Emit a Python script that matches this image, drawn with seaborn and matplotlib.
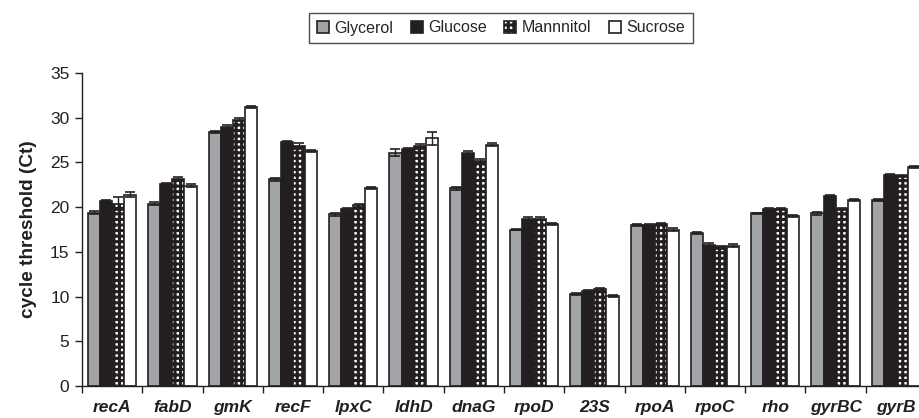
import matplotlib
matplotlib.use("Agg")
import matplotlib.pyplot as plt
import seaborn as sns
import pandas as pd

genes = ["recA", "fabD", "gmK", "recF", "lpxC", "ldhD", "dnaG",
         "rpoD", "23S", "rpoA", "rpoC", "rho", "gyrBC", "gyrB"]
carbon_sources = ["Glycerol", "Glucose", "Mannnitol", "Sucrose"]

glycerol = [19.4, 20.4, 28.4, 23.1, 19.2, 26.1, 22.1, 17.5, 10.3, 18.0, 17.1, 19.3, 19.3, 20.8]
glucose = [20.7, 22.6, 29.0, 27.3, 19.8, 26.5, 26.0, 18.7, 10.6, 18.0, 15.8, 19.8, 21.2, 23.6]
mannnitol = [20.4, 23.2, 29.8, 26.8, 20.2, 26.8, 25.2, 18.7, 10.8, 18.1, 15.5, 19.8, 19.8, 23.5]
sucrose = [21.4, 22.4, 31.2, 26.3, 22.1, 27.7, 27.0, 18.1, 10.1, 17.5, 15.7, 19.0, 20.8, 24.5]

glycerol_err = [0.15, 0.15, 0.15, 0.15, 0.15, 0.4, 0.15, 0.1, 0.15, 0.1, 0.1, 0.1, 0.15, 0.15]
glucose_err = [0.15, 0.1, 0.15, 0.15, 0.1, 0.15, 0.3, 0.15, 0.15, 0.1, 0.15, 0.15, 0.15, 0.15]
mannnitol_err = [0.7, 0.2, 0.2, 0.35, 0.15, 0.3, 0.15, 0.15, 0.15, 0.15, 0.15, 0.15, 0.15, 0.15]
sucrose_err = [0.3, 0.15, 0.1, 0.1, 0.1, 0.7, 0.15, 0.1, 0.1, 0.15, 0.15, 0.1, 0.15, 0.15]

colors = ["#a3a4a8", "#231f20", "#ffffff", "#ffffff"]

values = [glycerol, glucose, mannnitol, sucrose]
errors = [glycerol_err, glucose_err, mannnitol_err, sucrose_err]

df = pd.DataFrame({
    "gene": [g for _ in carbon_sources for g in genes],
    "source": [s for s in carbon_sources for _ in genes],
    "ct": [v for series in values for v in series],
})

sns.set_style("ticks")
plt.rcParams["font.family"] = ["Liberation Sans", "DejaVu Sans"]
plt.rcParams["hatch.linewidth"] = 2.2
plt.rcParams["hatch.color"] = "#231f20"

fig = plt.figure(figsize=(9.19, 4.18), dpi=100)
ax = fig.add_axes([82 / 919, 32 / 418, 844 / 919, 313 / 418])

sns.barplot(data=df, x="gene", y="ct", hue="source", order=genes,
            hue_order=carbon_sources, palette=colors, width=0.8,
            edgecolor="#231f20", linewidth=1.2, errorbar=None,
            legend=False, saturation=1, ax=ax)

# checkered fill for the mannitol series
for patch in ax.containers[2]:
    patch.set_hatch("+++")

# error bars placed on the drawn bars
for container, err in zip(ax.containers, errors):
    xs = [p.get_x() + p.get_width() / 2 for p in container]
    ys = [p.get_height() for p in container]
    ax.errorbar(xs, ys, yerr=err, fmt="none", ecolor="#231f20",
                elinewidth=1.0, capsize=3.5, capthick=1.2, zorder=5)

ax.set_xlim(-0.5, len(genes) - 0.5)
ax.set_ylim(0, 35)
ax.set_yticks(range(0, 36, 5))
ax.tick_params(axis="y", labelsize=12.5, length=5, width=1, color="#231f20",
               labelcolor="#231f20", pad=4)
ax.set_xticks(range(len(genes)))
ax.set_xticklabels(genes, fontsize=12.5, fontweight="bold", fontstyle="italic",
                   color="#231f20")
ax.tick_params(axis="x", length=0, pad=10)
ax.set_xticks([i - 0.5 for i in range(len(genes) + 1)], minor=True)
ax.tick_params(axis="x", which="minor", length=5, width=1, color="#231f20")
ax.set_xlabel("")
ax.set_ylabel("cycle threshold (Ct)", fontsize=13.7, fontweight="bold",
              color="#231f20", labelpad=9)

for side in ("top", "right"):
    ax.spines[side].set_visible(False)
for side in ("left", "bottom"):
    ax.spines[side].set_linewidth(1.0)
    ax.spines[side].set_color("#231f20")

handles = [c[0] for c in ax.containers]
leg = fig.legend(handles, carbon_sources, loc="center", ncol=4,
                 bbox_to_anchor=(501 / 919, 1 - 28 / 418), fontsize=11.5,
                 frameon=True, fancybox=False, handlelength=0.75,
                 handleheight=0.75, handletextpad=0.35, columnspacing=1.1,
                 borderpad=0.45, borderaxespad=0)
leg.get_frame().set_edgecolor("#231f20")
leg.get_frame().set_linewidth(1.0)

fig.savefig("out.png", dpi=100)
